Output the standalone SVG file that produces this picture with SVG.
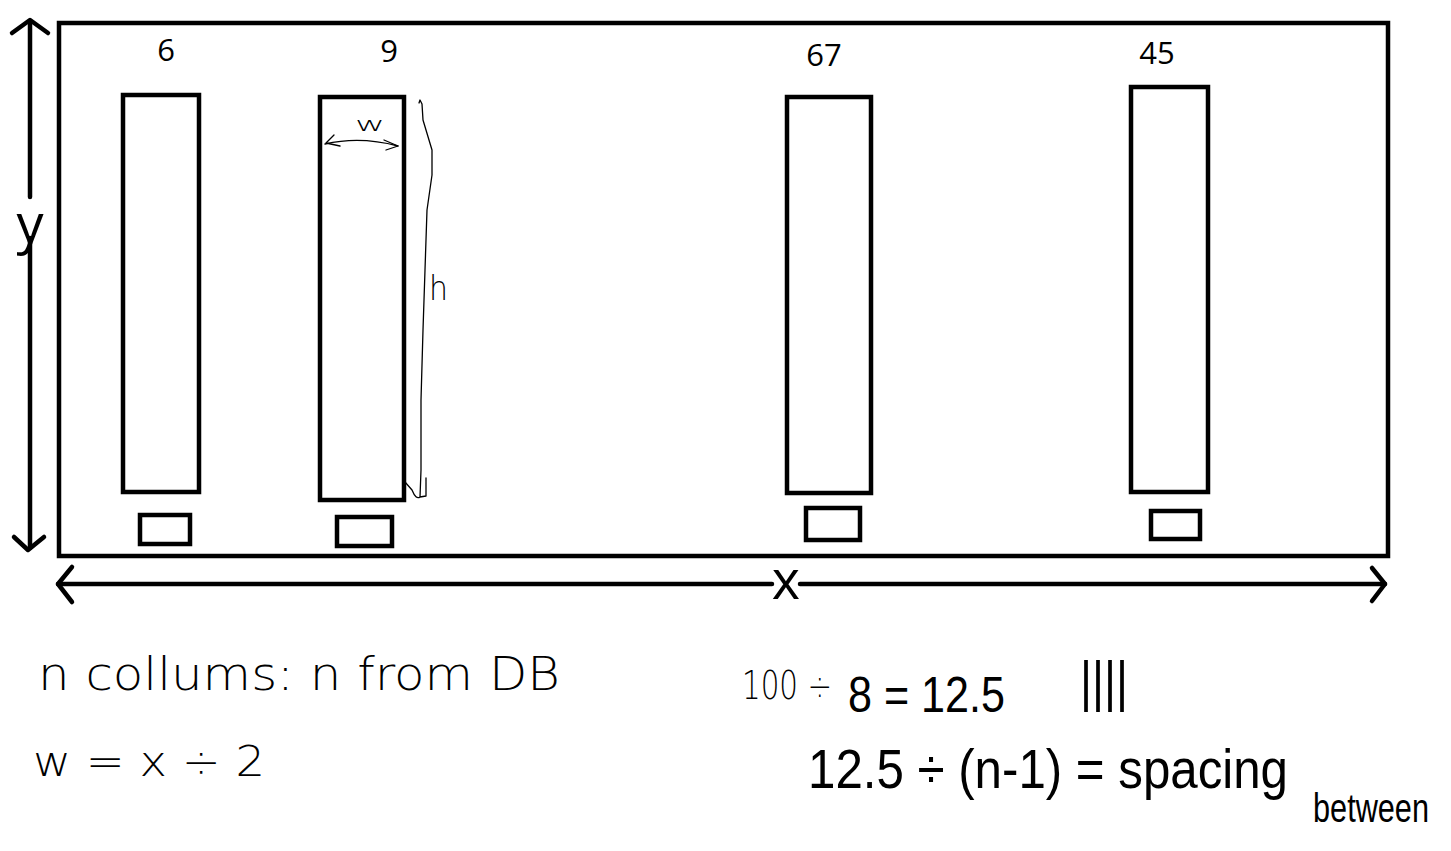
<svg xmlns="http://www.w3.org/2000/svg" width="1451" height="851" viewBox="0 0 1451 851">
  <style>
    .box { fill: none; stroke: #000; stroke-width: 4.5; }
    .axis { fill: none; stroke: #000; stroke-width: 4.5; stroke-linecap: round; stroke-linejoin: round; }
    .thin { fill: none; stroke: #000; stroke-width: 1.3; stroke-linecap: round; stroke-linejoin: round; }
    .num { font-family: "Open Sans", "Noto Sans", sans-serif; font-size: 31px; fill: #000; text-anchor: middle; }
    .axlbl { font-family: "Open Sans", "Noto Sans", sans-serif; font-size: 54px; fill: #000; text-anchor: middle; }
    .hand { font-family: "DejaVu Sans", sans-serif; font-weight: 200; fill: #000; }
    .handb { font-family: "Liberation Sans", sans-serif; fill: #000; }
  </style>
  <rect width="1451" height="851" fill="#fff"/>

  <g id="frame">
    <rect class="box" x="59" y="23" width="1329" height="533"/>
  </g>

  <g id="column-6">
    <rect class="box" x="123" y="95" width="76" height="397"/>
    <rect class="box" x="140" y="515" width="50" height="29"/>
    <text class="num" x="166" y="61">6</text>
  </g>
  <g id="column-9">
    <rect class="box" x="320" y="97" width="84" height="403"/>
    <rect class="box" x="337" y="517" width="55" height="29"/>
    <text class="num" x="389" y="62">9</text>
  </g>
  <g id="column-67">
    <rect class="box" x="787" y="97" width="84" height="396"/>
    <rect class="box" x="806" y="508" width="54" height="32"/>
    <text class="num" x="824" y="66">67</text>
  </g>
  <g id="column-45">
    <rect class="box" x="1131" y="87" width="77" height="405"/>
    <rect class="box" x="1151" y="511" width="49" height="28"/>
    <text class="num" x="1157" y="64">45</text>
  </g>

  <g id="connectors">
    <!-- y axis -->
    <path class="axis" d="M30 22 V197 M30 238 V548"/>
    <path class="axis" d="M12 33 L30 20 L48 33"/>
    <path class="axis" d="M14 537 L28 550 L44 537"/>
    <!-- x axis -->
    <path class="axis" d="M58 584 H772 M800 584 H1385"/>
    <path class="axis" d="M72 567 L58 584 L72 602"/>
    <path class="axis" d="M1372 568 L1385 584 L1372 601"/>
    <!-- w dimension -->
    <path class="thin" d="M325 144 Q360 136 398 146"/>
    <path class="thin" d="M334 135 L326 143 L340 146"/>
    <path class="thin" d="M384 140 L398 146 L386 150"/>
    <!-- h dimension -->
    <path class="thin" d="M419 103 L420 100 L422 104 L423 120 L432 150 L432 175 L427 210 L425 270 L423 330 L421 400 L421 470 L420 497 Q416 500 412 490 L405 482 M420 497 L426 496 L426 478"/>
  </g>

  <g id="labels">
    <text class="axlbl" x="30" y="243">y</text>
    <text class="axlbl" x="786" y="599">x</text>
    <text class="hand" x="355" y="131" font-size="20" textLength="30" lengthAdjust="spacingAndGlyphs">w</text>
    <text class="hand" x="429" y="300" font-size="34" textLength="19" lengthAdjust="spacingAndGlyphs">h</text>
  </g>

  <g id="notes">
    <text class="hand" x="38" y="690" font-size="46" textLength="522" lengthAdjust="spacingAndGlyphs">n collums: n from DB</text>
    <text class="hand" x="33" y="776" font-size="42" textLength="232" lengthAdjust="spacingAndGlyphs">w = x ÷ 2</text>
    <text class="hand" transform="translate(742 699) scale(1 1.35)" font-size="29" textLength="90" lengthAdjust="spacingAndGlyphs">100 ÷</text>
    <text class="handb" x="848" y="712" font-size="50" textLength="157" lengthAdjust="spacingAndGlyphs">8 = 12.5</text>
    <text class="handb" x="1080" y="700" font-size="56" textLength="48" lengthAdjust="spacingAndGlyphs">||||</text>
    <text class="handb" transform="translate(808 788) scale(1 1.17)" font-size="48" textLength="480" lengthAdjust="spacingAndGlyphs">12.5 ÷ (n-1) = spacing</text>
    <text class="handb" transform="translate(1313 822) scale(1 1.3)" font-size="31" textLength="116" lengthAdjust="spacingAndGlyphs">between</text>
  </g>
</svg>
